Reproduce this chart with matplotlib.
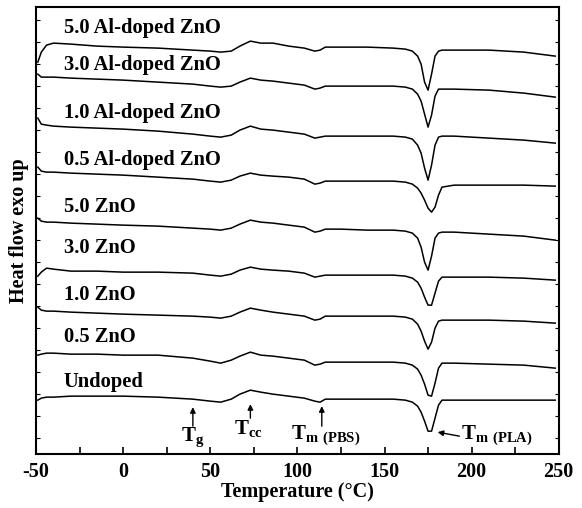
import numpy as np
import matplotlib
matplotlib.use("Agg")
from matplotlib import pyplot as plt
from matplotlib.ticker import MultipleLocator

plt.rcParams["font.family"] = ["Liberation Serif", "DejaVu Serif"]
plt.rcParams["font.weight"] = "bold"
plt.rcParams["mathtext.fontset"] = "custom"
plt.rcParams["mathtext.rm"] = "Liberation Serif"
plt.rcParams["mathtext.bf"] = "Liberation Serif:bold"
plt.rcParams["axes.unicode_minus"] = False

# 温度 (°C)
temp = [-49, -47, -44, -40, -30, -15, 0, 20, 40, 50, 56, 62, 67, 73, 79, 86, 95, 104,
        110, 113, 116, 125, 140, 155, 162, 166, 169, 171, 173, 175, 177, 179, 181, 183,
        190, 210, 230, 248]

# 热流 (a.u.), 从上到下
al50 = [398, 408, 415, 417, 416, 414, 413, 412, 410, 409, 408, 409, 414, 419, 417, 417, 414, 412,
        409, 410, 413, 413, 413, 412, 411, 409, 404, 396, 378, 370, 386, 404, 409, 410,
        410, 410, 408, 404]
al30 = [386, 383, 383, 383, 382, 381, 380, 378, 376, 374, 373, 374, 378, 382, 380, 379, 377, 375,
        371, 372, 374, 374, 374, 374, 373, 371, 366, 359, 346, 333, 345, 364, 371, 371,
        371, 370, 367, 363]
al10 = [342, 336, 335, 334, 333, 332, 331, 329, 326, 324, 323, 325, 330, 334, 331, 330, 328, 326,
        322, 323, 324, 324, 324, 324, 323, 321, 315, 307, 292, 280, 295, 315, 323, 324,
        324, 322, 320, 317]
al05 = [293, 289, 288, 288, 287, 286, 285, 283, 281, 279, 278, 280, 284, 287, 285, 284, 283, 281,
        276, 277, 279, 279, 279, 279, 278, 276, 272, 267, 260, 252, 248, 253, 265, 273,
        275, 275, 275, 274]
zn50 = [242, 239, 238, 238, 237, 236, 235, 234, 232, 231, 230, 232, 236, 240, 238, 237, 235, 233,
        228, 229, 231, 231, 230, 230, 229, 227, 222, 213, 198, 190, 204, 222, 227, 228,
        228, 226, 224, 220]
zn30 = [184, 188, 192, 191, 189, 189, 188, 188, 187, 185, 184, 186, 190, 193, 191, 190, 189, 187,
        183, 184, 185, 185, 185, 185, 184, 182, 178, 172, 163, 155, 155, 167, 179, 183,
        183, 183, 182, 180]
zn10 = [153, 150, 149, 149, 148, 147, 146, 145, 144, 143, 142, 144, 148, 152, 150, 148, 146, 144,
        140, 141, 144, 144, 144, 144, 143, 141, 136, 129, 119, 111, 118, 132, 139, 140,
        140, 140, 139, 137]
zn05 = [105, 106, 107, 107, 106, 106, 105, 105, 102, 99, 97, 100, 104, 108, 105, 104, 102, 100,
        95, 96, 98, 98, 98, 98, 97, 95, 91, 85, 76, 65, 64, 77, 92, 97,
        97, 96, 95, 92]
undoped = [60, 62, 63, 63, 64, 64, 64, 63, 61, 59, 58, 61, 66, 70, 68, 66, 64, 62,
           59, 58, 61, 61, 61, 61, 60, 58, 54, 48, 39, 29, 29, 42, 55, 60,
           60, 60, 60, 60]

labels = ["5.0 Al-doped ZnO", "3.0 Al-doped ZnO", "1.0 Al-doped ZnO", "0.5 Al-doped ZnO",
          "5.0 ZnO", "3.0 ZnO", "1.0 ZnO", "0.5 ZnO", "Undoped"]
curves = [al50, al30, al10, al05, zn50, zn30, zn10, zn05, undoped]
# 标签位置 (纵向)
label_y = [432, 395, 347, 300, 253, 212, 165, 123, 78]

fig = plt.figure(figsize=(5.82, 5.08), dpi=100)
ax = fig.add_axes([0.062, 0.106, 0.898, 0.880])

for c, lab, ly in zip(curves, labels, label_y):
    ax.plot(temp, c, color="black", lw=1.1)
    ax.text(-34, ly, lab, fontsize=14.8, fontweight="bold", va="center", ha="left")

# 箭头标注
arr = dict(arrowstyle="-|>", color="black", lw=1.0, mutation_scale=8, shrinkA=0, shrinkB=0)
ax.annotate("", xy=(40, 53), xytext=(40, 34), arrowprops=arr)
ax.text(40, 22, r"$\mathbf{T}_{\mathbf{g}}$", fontsize=15, ha="center", va="center")
ax.annotate("", xy=(73, 56), xytext=(73, 42), arrowprops=arr)
ax.text(72, 31, r"$\mathbf{T}_{\mathrm{cc}}$", fontsize=15, ha="center", va="center")
ax.annotate("", xy=(114, 54), xytext=(114, 34), arrowprops=arr)
ax.text(116, 24, r"$\mathbf{T}_{\mathbf{m\ (PBS)}}$", fontsize=15, ha="center", va="center")
ax.annotate("", xy=(180.5, 28), xytext=(193, 24), arrowprops=arr)
ax.text(194, 24, r"$\mathbf{T}_{\mathbf{m\ (PLA)}}$", fontsize=15, ha="left", va="center")

ax.set_xlim(-50, 250)
ax.set_ylim(6, 453)
ax.xaxis.set_major_locator(MultipleLocator(50))
ax.xaxis.set_minor_locator(MultipleLocator(25))
ax.yaxis.set_major_locator(MultipleLocator(22))
ax.tick_params(axis="x", which="both", direction="in", length=5, width=1.2, labelsize=14.5, pad=6)
ax.tick_params(axis="y", which="both", direction="in", length=3, width=0.8,
               left=True, right=True, labelleft=False)
for s in ax.spines.values():
    s.set_linewidth(1.5)
for lab in ax.get_xticklabels():
    lab.set_fontweight("bold")

ax.set_xlabel("Temperature (°C)", fontsize=14.5, fontweight="bold", labelpad=0)
ax.set_ylabel("Heat flow exo up", fontsize=14.5, fontweight="bold", labelpad=5)

plt.savefig("out.png", dpi=100)
